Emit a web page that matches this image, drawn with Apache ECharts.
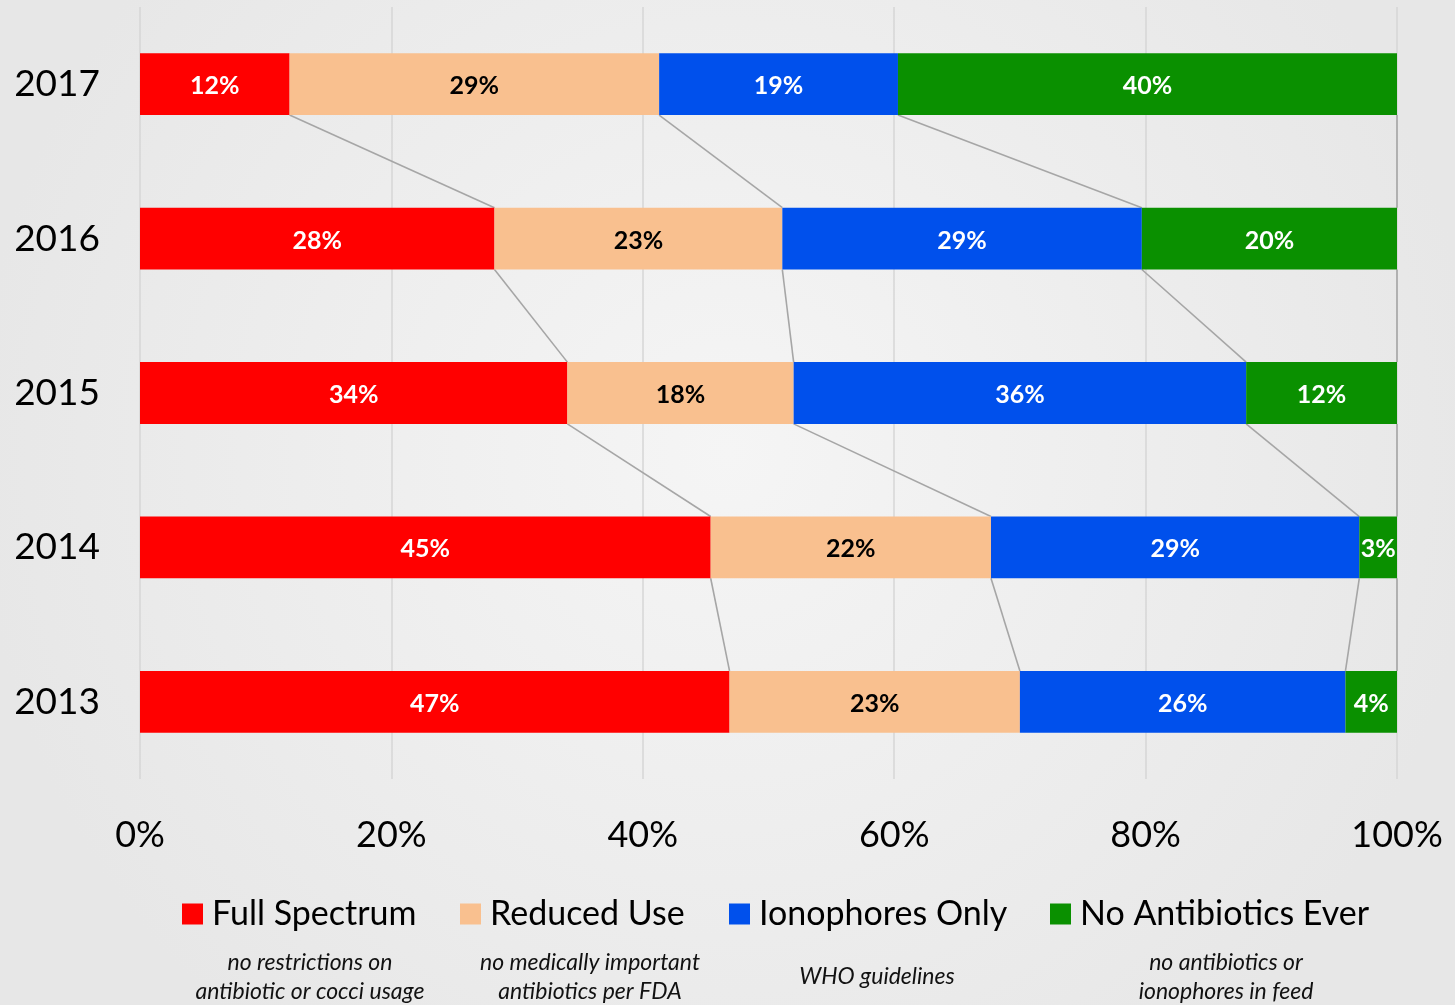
<!DOCTYPE html>
<html>
<head>
<meta charset="utf-8">
<script src="https://cdn.jsdelivr.net/npm/echarts@6/dist/echarts.min.js"></script>
<style>
html,body{margin:0;padding:0;width:1455px;height:1005px;overflow:hidden;}
#chart{width:1455px;height:1005px;}
</style>
</head>
<body>
<div id="chart"></div>
<script>
// ---- data ----
var years = ['2013', '2014', '2015', '2016', '2017'];
var seriesNames = ['Full Spectrum', 'Reduced Use', 'Ionophores Only', 'No Antibiotics Ever'];
var fullSpectrum = [46.9, 45.4, 34.0, 28.2, 11.9];
var reducedUse = [23.1, 22.3, 18.0, 22.9, 29.4];
var ionophoresOnly = [25.9, 29.3, 36.0, 28.6, 19.0];
var noAntibiotics = [4.1, 3.0, 12.0, 20.3, 39.7];
var xTicks = [0, 20, 40, 60, 80, 100];
var subtitles = [
  'no restrictions on\nantibiotic or cocci usage',
  'no medically important\nantibiotics per FDA',
  'WHO guidelines',
  'no antibiotics or\nionophores in feed'
];

// ---- styles ----
var colors = ['#FF0000', '#F9C08F', '#0050EC', '#0A9000'];
var labelColors = ['#ffffff', '#000000', '#ffffff', '#ffffff'];
var FONT = 'Lato, "Open Sans", sans-serif';

var values = [fullSpectrum, reducedUse, ionophoresOnly, noAntibiotics];

// cumulative boundaries per series per year
var cum = [];
var run = years.map(function () { return 0; });
values.forEach(function (arr) {
  run = run.map(function (v, i) { return v + arr[i]; });
  cum.push(run.slice());
});

// series-line segments: from upper year's bar bottom to lower year's bar top
var segs = [];
cum.forEach(function (c) {
  for (var i = years.length - 1; i > 0; i--) {
    segs.push([c[i], i, c[i - 1], i - 1]);
  }
});

var chart = echarts.init(document.getElementById('chart'));

var barSeries = values.map(function (arr, k) {
  return {
    name: seriesNames[k],
    type: 'bar',
    stack: 'total',
    barWidth: '40%',
    data: arr,
    itemStyle: { color: colors[k] },
    label: {
      show: true,
      position: 'inside',
      offset: [0, 2],
      color: labelColors[k],
      fontFamily: FONT,
      fontWeight: 'bold',
      fontSize: 25,
      formatter: function (p) { return Math.round(p.value) + '%'; }
    },
    emphasis: { disabled: true },
    z: 3
  };
});

var lineSeries = {
  type: 'custom',
  data: segs,
  encode: { x: [0, 2], y: [1, 3] },
  silent: true,
  z: 2,
  renderItem: function (params, api) {
    var p1 = api.coord([api.value(0), api.value(1)]);
    var p2 = api.coord([api.value(2), api.value(3)]);
    var band = api.size([0, 1])[1];
    var half = band * 0.2;
    return {
      type: 'line',
      shape: { x1: p1[0], y1: p1[1] + half, x2: p2[0], y2: p2[1] - half },
      style: { stroke: '#a6a6a6', lineWidth: 1.6 }
    };
  }
};

var legendX = [182, 460, 729, 1050];
var legends = seriesNames.map(function (n, k) {
  return {
    data: [n],
    left: legendX[k],
    top: 897,
    padding: 0,
    itemWidth: 21,
    itemHeight: 21,
    itemGap: 9,
    icon: 'rect',
    selectedMode: false,
    textStyle: { fontFamily: FONT, fontSize: 34, color: '#000', padding: [0, 0, 0, 4] }
  };
});

var subX = [310, 590, 877, 1226];
var graphics = subtitles.map(function (t, k) {
  return {
    type: 'text',
    x: subX[k],
    y: 977,
    style: {
      text: t,
      fontFamily: FONT,
      fontStyle: 'italic',
      fontSize: 23,
      lineHeight: 29,
      fill: '#111',
      align: 'center',
      verticalAlign: 'middle'
    }
  };
});

chart.setOption({
  backgroundColor: {
    type: 'radial', x: 0.5, y: 0.45, r: 0.75,
    colorStops: [{ offset: 0, color: '#f5f5f5' }, { offset: 1, color: '#e7e7e7' }]
  },
  animation: false,
  grid: { left: 140, right: 58, top: 7, bottom: 226, containLabel: false },
  xAxis: {
    type: 'value',
    min: 0, max: 100, interval: 20,
    axisLine: { show: false },
    axisTick: { show: false },
    splitLine: { show: true, lineStyle: { color: '#d6d6d6', width: 1.5 } },
    axisLabel: {
      margin: 38,
      fontFamily: FONT, fontSize: 36, color: '#000',
      formatter: function (v) { return xTicks.indexOf(v) >= 0 ? v + '%' : ''; }
    }
  },
  yAxis: {
    type: 'category',
    data: years,
    axisLine: { show: false },
    axisTick: { show: false },
    axisLabel: { margin: 40, fontFamily: FONT, fontSize: 37, color: '#000' }
  },
  legend: legends,
  graphic: graphics,
  series: barSeries.concat([lineSeries])
});
</script>
</body>
</html>
